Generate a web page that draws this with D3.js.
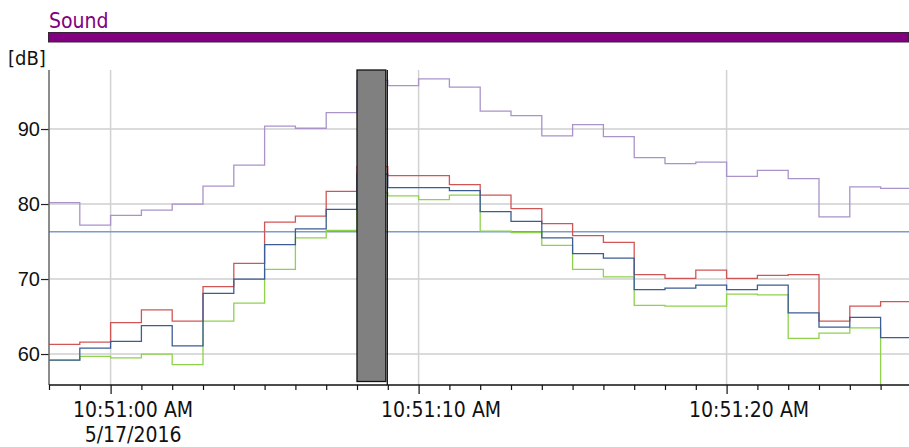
<!DOCTYPE html>
<html>
<head>
<meta charset="utf-8">
<script src="https://cdn.jsdelivr.net/npm/d3@7"></script>
<style>
  body { margin: 0; background: #fff; }
  svg { display: block; font-family: 'DejaVu Sans', sans-serif; font-stretch: condensed; }
</style>
</head>
<body>
<svg id="chart" width="909" height="447"></svg>
<script>
// Values, one sample per second starting at 10:50:58
const startTime = new Date(2016, 4, 17, 10, 50, 58)
const purpleValues = [80.2, 77.2, 78.5, 79.2, 80.0, 82.4, 85.2, 90.4, 90.1, 92.2, 96.5, 95.8, 96.7, 95.6, 92.4, 91.8, 89.1, 90.6, 89.0, 86.2, 85.4, 85.6, 83.7, 84.5, 83.4, 78.3, 82.3, 82.1]
const redValues = [61.3, 61.6, 64.2, 65.9, 64.4, 69.0, 72.1, 77.6, 78.4, 81.7, 85.0, 83.8, 83.8, 82.6, 81.2, 79.4, 77.4, 75.8, 74.9, 70.6, 70.1, 71.2, 70.1, 70.5, 70.6, 64.4, 66.4, 67.0]
const blueValues = [59.2, 60.8, 61.7, 63.8, 61.1, 68.1, 70.0, 74.6, 76.7, 79.3, 84.0, 82.2, 82.2, 81.8, 79.0, 77.7, 75.5, 73.4, 72.8, 68.6, 68.8, 69.2, 68.6, 69.2, 65.5, 63.6, 64.9, 62.2]
const greenValues = [59.2, 59.7, 59.5, 60.0, 58.6, 64.4, 66.8, 71.3, 75.5, 76.5, 81.5, 81.1, 80.6, 81.2, 76.4, 76.2, 74.5, 71.3, 70.3, 66.5, 66.4, 66.4, 68.0, 67.9, 62.1, 62.8, 63.5, 55.0]
const thresholdValue = 76.3
const yTicks = [60, 70, 80, 90]
const majorTickLabels = ['10:51:00 AM', '10:51:10 AM', '10:51:20 AM']
const dateLabel = '5/17/2016'
const cursorIndex = 10

const series = [
  { name: 'purple', values: purpleValues, color: '#a993c9' },
  { name: 'green', values: greenValues, color: '#8ed24c' },
  { name: 'red', values: redValues, color: '#d25555' },
  { name: 'blue', values: blueValues, color: '#3b5d94' }
]

const plot = { left: 49, right: 909, top: 70, bottom: 385 }

const svg = d3.select('#chart')

const timeAt = (i) => d3.timeSecond.offset(startTime, i)

const xScale = d3.scaleTime()
  .domain([startTime, timeAt(28)])
  .range([plot.left, plot.left + 28 * 30.8])

const yScale = d3.scaleLinear()
  .domain([55.87, 97.87])
  .range([plot.bottom, plot.top])

/**
 * Draws the purple title bar with its caption.
 */
function drawHeader () {
  svg.append('text')
    .attr('x', 49)
    .attr('y', 28)
    .attr('fill', '#800080')
    .style('font-size', '21px')
    .text('Sound')

  svg.append('rect')
    .attr('x', 48.5)
    .attr('y', 32.5)
    .attr('width', 860)
    .attr('height', 9.5)
    .attr('fill', '#800080')
    .attr('stroke', '#3c203c')
    .attr('stroke-width', 1)

  svg.append('text')
    .attr('x', 8)
    .attr('y', 65)
    .attr('fill', '#111')
    .style('font-size', '20px')
    .text('[dB]')
}

/**
 * Draws the grid lines behind the data.
 */
function drawGrid () {
  const g = svg.append('g').attr('class', 'grid')
  g.selectAll('.hgrid')
    .data(yTicks)
    .enter()
    .append('line')
    .attr('x1', plot.left)
    .attr('x2', plot.right)
    .attr('y1', (d) => yScale(d))
    .attr('y2', (d) => yScale(d))
    .attr('stroke', '#cfcfcf')
    .attr('stroke-width', 1.5)

  const majors = majorTickLabels.map((s, i) => timeAt(2 + i * 10))
  g.selectAll('.vgrid')
    .data(majors)
    .enter()
    .append('line')
    .attr('x1', (d) => xScale(d))
    .attr('x2', (d) => xScale(d))
    .attr('y1', plot.top)
    .attr('y2', plot.bottom)
    .attr('stroke', '#d2d2d2')
    .attr('stroke-width', 1.5)
}

/**
 * Draws the step series, clipped to the plot area.
 */
function drawSeries () {
  svg.append('clipPath')
    .attr('id', 'plot-clip')
    .append('rect')
    .attr('x', plot.left)
    .attr('y', plot.top)
    .attr('width', plot.right - plot.left)
    .attr('height', plot.bottom - plot.top)

  const g = svg.append('g').attr('clip-path', 'url(#plot-clip)')

  g.append('line')
    .attr('x1', plot.left)
    .attr('x2', plot.right)
    .attr('y1', yScale(thresholdValue))
    .attr('y2', yScale(thresholdValue))
    .attr('stroke', '#7d9cc7')
    .attr('stroke-width', 1.5)

  const line = d3.line()
    .curve(d3.curveStepAfter)
    .x((d) => xScale(d.t))
    .y((d) => yScale(d.v))

  g.selectAll('.series')
    .data(series)
    .enter()
    .append('path')
    .attr('class', 'series')
    .attr('fill', 'none')
    .attr('stroke', (d) => d.color)
    .attr('stroke-width', 1.3)
    .attr('d', (d) => {
      const pts = d.values.map((v, i) => ({ t: timeAt(i), v }))
      pts.push({ t: timeAt(d.values.length), v: d.values[d.values.length - 1] })
      return line(pts)
    })
}

/**
 * Draws the gray cursor block and its marker line.
 */
function drawCursor () {
  const x0 = xScale(timeAt(cursorIndex))
  const x1 = xScale(timeAt(cursorIndex + 1))
  svg.append('rect')
    .attr('x', x0)
    .attr('y', plot.top)
    .attr('width', x1 - x0 - 2)
    .attr('height', plot.bottom - plot.top - 3.5)
    .attr('fill', '#808080')
    .attr('stroke', '#111')
    .attr('stroke-width', 1.3)

  svg.append('line')
    .attr('x1', x1 - 0.5)
    .attr('x2', x1 - 0.5)
    .attr('y1', plot.top)
    .attr('y2', plot.bottom)
    .attr('stroke', '#111')
    .attr('stroke-width', 1.3)
}

/**
 * Draws both axes with their ticks and labels.
 */
function drawAxes () {
  const yAxis = d3.axisLeft(yScale)
    .tickValues(yTicks)
    .tickSize(8)
    .tickPadding(1)
  const yg = svg.append('g')
    .attr('transform', `translate(${plot.left},0)`)
    .call(yAxis)
  yg.select('.domain').remove()
  yg.selectAll('text').style('font-size', '20px').attr('fill', '#111')
  yg.selectAll('line').attr('stroke', '#222').attr('stroke-width', 1.2)

  svg.append('line')
    .attr('x1', plot.left)
    .attr('x2', plot.left)
    .attr('y1', plot.top)
    .attr('y2', plot.bottom)
    .attr('stroke', '#666')
    .attr('stroke-width', 1.5)

  const xAxis = d3.axisBottom(xScale)
    .ticks(d3.timeSecond.every(1))
    .tickSize(5)
    .tickFormat('')
  const xg = svg.append('g')
    .attr('transform', `translate(0,${plot.bottom})`)
    .call(xAxis)
  xg.select('.domain').remove()
  xg.selectAll('.tick line')
    .attr('stroke', '#111')
    .attr('stroke-width', 1.2)
    .attr('y2', (d) => d.getSeconds() % 10 === 0 ? 9 : 5)

  svg.append('line')
    .attr('x1', plot.left)
    .attr('x2', plot.right)
    .attr('y1', plot.bottom)
    .attr('y2', plot.bottom)
    .attr('stroke', '#111')
    .attr('stroke-width', 1.5)

  svg.selectAll('.xlabel')
    .data(majorTickLabels)
    .enter()
    .append('text')
    .attr('class', 'xlabel')
    .attr('x', (d, i) => xScale(timeAt(2 + i * 10)) + 22.5)
    .attr('y', 417)
    .attr('text-anchor', 'middle')
    .attr('fill', '#111')
    .style('font-size', '21px')
    .text((d) => d)

  svg.append('text')
    .attr('x', xScale(timeAt(2)) + 22.5)
    .attr('y', 442)
    .attr('text-anchor', 'middle')
    .attr('fill', '#111')
    .style('font-size', '21px')
    .text(dateLabel)
}

drawHeader()
drawGrid()
drawSeries()
drawCursor()
drawAxes()
</script>
</body>
</html>
